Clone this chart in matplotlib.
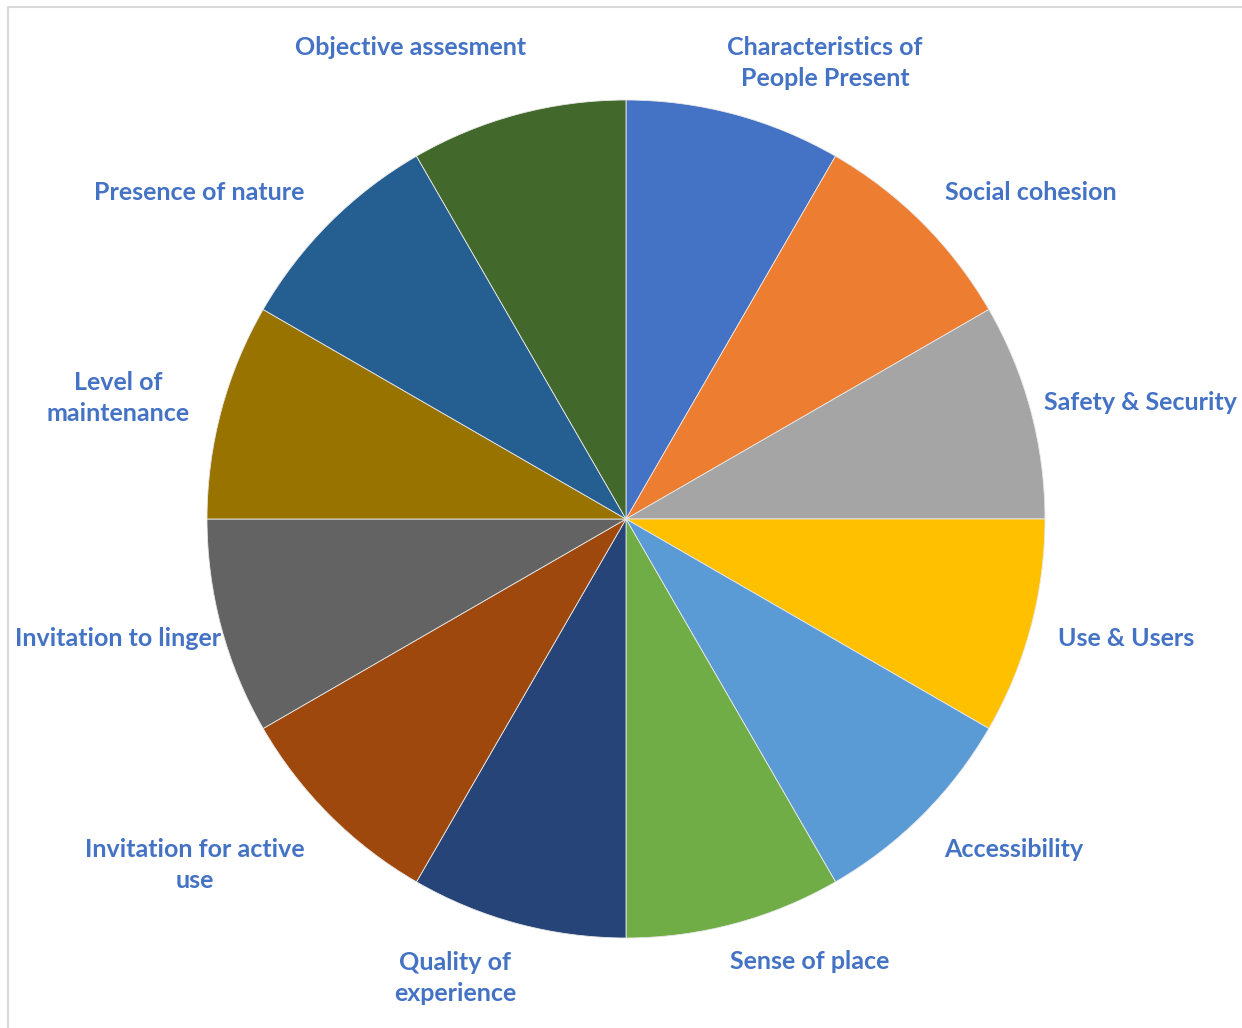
import matplotlib.pyplot as plt
from matplotlib.patches import Rectangle

categories = ["Characteristics of\nPeople Present", "Social cohesion", "Safety & Security",
              "Use & Users", "Accessibility", "Sense of place", "Quality of\nexperience",
              "Invitation for active\nuse", "Invitation to linger", "Level of\nmaintenance",
              "Presence of nature", "Objective assesment"]
values = [1, 1, 1, 1, 1, 1, 1, 1, 1, 1, 1, 1]
colors = ["#4472C4", "#ED7D31", "#A5A5A5", "#FFC000", "#5B9BD5", "#70AD47",
          "#264478", "#9E480E", "#636363", "#997300", "#255E91", "#43682B"]

# label centres, in units of the pie radius
label_pos = [(0.475, 1.088), (0.967, 0.780), (1.227, 0.277), (1.193, -0.286),
             (0.926, -0.788), (0.439, -1.057), (-0.408, -1.095), (-1.029, -0.826),
             (-1.212, -0.286), (-1.212, 0.289), (-1.019, 0.780), (-0.513, 1.126)]

fig = plt.figure(figsize=(12.42, 10.28), dpi=100)
ax = fig.add_axes([0, 0, 1, 1])
ax.axis("off")

ax.pie(values, colors=colors, startangle=90, counterclock=False, radius=1,
       wedgeprops=dict(edgecolor="#e8e8e8", linewidth=0.6))
ax.set_aspect("auto")
ax.set_xlim(-626 / 419, (1242 - 626) / 419)
ax.set_ylim(-(1028 - 519) / 419, 519 / 419)

for name, (x, y) in zip(categories, label_pos):
    ax.text(x, y, name, ha="center", va="center", fontsize=18, fontweight="bold",
            family="Lato", color="#4472C4", linespacing=1.45)

# chart area border
fig.patches.append(Rectangle((8 / 1242, -0.1), 2, (1028 - 7) / 1028 + 0.1,
                             transform=fig.transFigure, fill=False,
                             edgecolor="#d9d9d9", linewidth=1.5))

fig.savefig("out.png", dpi=100)
